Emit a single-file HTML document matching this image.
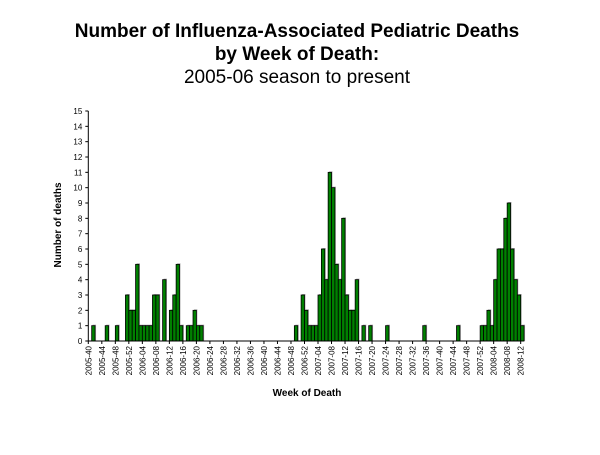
<!DOCTYPE html>
<html><head><meta charset="utf-8"><style>
body{margin:0;background:#fff;font-family:"Liberation Sans",Arial,sans-serif}
</style></head><body>
<svg id="chart" width="600" height="450" xmlns="http://www.w3.org/2000/svg" font-family="Liberation Sans, Arial, sans-serif">
<g text-anchor="middle" font-size="19">
<text x="297" y="37" font-weight="bold">Number of Influenza-Associated Pediatric Deaths</text>
<text x="297" y="60" font-weight="bold">by Week of Death:</text>
<text x="297" y="83">2005-06 season to present</text>
</g>
<g id="plot"></g>
<text transform="translate(61,225) rotate(-90)" text-anchor="middle" font-size="10" font-weight="bold">Number of deaths</text>
<text x="307" y="396" text-anchor="middle" font-size="10" font-weight="bold">Week of Death</text>
</svg>
<script>
const weekCount = 129;
const nonZeroWeeks = [1,5,8,11,12,13,14,15,16,17,18,19,20,22,24,25,26,27,29,30,31,32,33,
61,63,64,65,66,67,68,69,70,71,72,73,74,75,76,77,78,79,81,83,88,
99,109,116,117,118,119,120,121,122,123,124,125,126,127,128];
const deaths = [1,1,1,3,2,2,5,1,1,1,1,3,3,4,2,3,5,1,1,1,2,1,1,
1,3,2,1,1,1,3,6,4,11,10,5,4,8,3,2,2,4,1,1,1,
1,1,1,1,2,1,4,6,6,8,9,6,4,3,1];
const yTicks = [0,1,2,3,4,5,6,7,8,9,10,11,12,13,14,15];
const tickLabels = ["2005-40","2005-44","2005-48","2005-52","2006-04","2006-08","2006-12","2006-16","2006-20","2006-24","2006-28","2006-32","2006-36","2006-40","2006-44","2006-48","2006-52","2007-04","2007-08","2007-12","2007-16","2007-20","2007-24","2007-28","2007-32","2007-36","2007-40","2007-44","2007-48","2007-52","2008-04","2008-08","2008-12"];

const NS="http://www.w3.org/2000/svg";
const X0=88.3, X1=88.3+3.378*weekCount, Y0=341, Y15=111;
const bw=(X1-X0)/weekCount;
const xs=j=>X0+j*bw;
const ys=v=>Y0-(Y0-Y15)*v/15;
const plot=document.getElementById('plot');
function mk(t,a){const e=document.createElementNS(NS,t);for(const k in a)e.setAttribute(k,a[k]);plot.appendChild(e);return e;}
// bars
nonZeroWeeks.forEach((j,i)=>{
  const v=deaths[i];
  const sh=mk('rect',{x:xs(j)+1,y:ys(v)-1,width:bw,height:Y0-ys(v)+1,fill:'#b0b0b0'});
  
  
  const r=mk('rect',{x:xs(j),y:ys(v),width:bw,height:Y0-ys(v),fill:'#008000',stroke:'#000','stroke-width':0.8});
  
  
});
// axes
const ya=mk('line',{x1:X0,y1:Y15,x2:X0,y2:Y0,stroke:'#000','stroke-width':1});


const xa=mk('line',{x1:X0,y1:Y0,x2:X1,y2:Y0,stroke:'#000','stroke-width':1});


yTicks.forEach(v=>{
  mk('line',{x1:X0-3,y1:ys(v),x2:X0,y2:ys(v),stroke:'#000'});
  const t=mk('text',{x:X0-6,y:ys(v)+3,'text-anchor':'end','font-size':8});
  t.textContent=v;
  
  
});
tickLabels.forEach((s,k)=>{
  const x=xs(k*4);
  mk('line',{x1:x,y1:Y0,x2:x,y2:Y0+3,stroke:'#000'});
  const t=mk('text',{transform:`translate(${x+3},${Y0+5}) rotate(-90)`,'text-anchor':'end','font-size':8});
  t.textContent=s;
  
  
});
</script>
</body></html>
